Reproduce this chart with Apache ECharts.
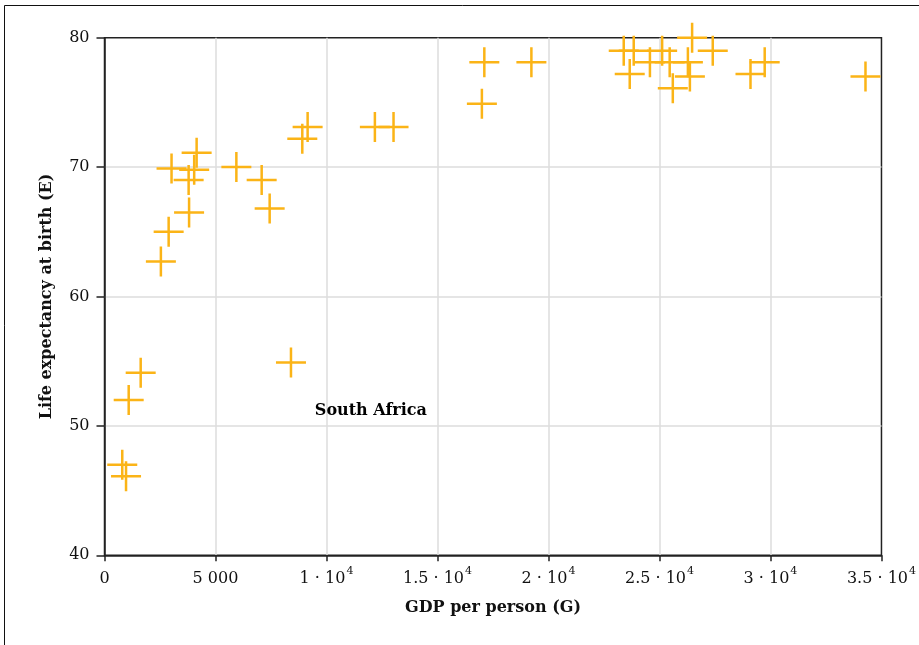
<!DOCTYPE html>
<html>
<head>
<meta charset="utf-8">
<script src="https://cdn.jsdelivr.net/npm/echarts@6/dist/echarts.min.js"></script>
<style>
html,body{margin:0;padding:0;background:#fff;}
#chart{width:919px;height:645px;}
</style>
</head>
<body>
<div id="chart"></div>
<script>
// GDP per person (G)
const gdp = [3020, 4150, 4040, 3790, 5940, 7080, 7440, 3810, 2890, 2540,
  9150, 8910, 12180, 13020, 1630, 1090, 800, 970, 8400,
  17110, 19230, 17000, 23390, 23840, 25120, 24570, 25460, 26280, 26370,
  23660, 25600, 26470, 27400, 29100, 29740, 34280];
// Life expectancy at birth (E)
const life = [69.9, 71.1, 69.8, 69.0, 70.0, 69.0, 66.8, 66.5, 65.0, 62.7,
  73.1, 72.2, 73.1, 73.1, 54.1, 52.0, 47.0, 46.1, 54.9,
  78.1, 78.1, 74.9, 79.0, 79.0, 79.0, 78.1, 78.1, 78.1, 77.0,
  77.2, 76.1, 80.0, 79.0, 77.2, 78.1, 77.0];
const xTickLabels = {0: '0', 5000: '5 000', 10000: '1 · 10|4', 15000: '1.5 · 10|4', 20000: '2 · 10|4',
  25000: '2.5 · 10|4', 30000: '3 · 10|4', 35000: '3.5 · 10|4'};
const annotation = {text: 'South Africa', x: 12000, y: 51.15};

const font = '"DejaVu Serif", "Liberation Serif", serif';
const chart = echarts.init(document.getElementById('chart'));
const points = gdp.map((g, i) => [g, life[i]]);
chart.setOption({
  animation: false,
  backgroundColor: '#fff',
  textStyle: {fontFamily: font},
  graphic: [{
    type: 'rect', shape: {x: 4.5, y: 5.5, width: 930, height: 660},
    style: {fill: 'none', stroke: '#111', lineWidth: 1}, silent: true, z: -1
  }],
  grid: {left: 104.5, right: 36, top: 37.7, bottom: 89.7, show: true,
    borderColor: '#222', borderWidth: 1.5, backgroundColor: 'transparent'},
  xAxis: {
    type: 'value', min: 0, max: 35000, interval: 5000,
    name: 'GDP per person (G)', nameLocation: 'middle', nameGap: 45,
    nameTextStyle: {fontFamily: font, fontWeight: 'bold', fontSize: 16, color: '#111'},
    axisLine: {lineStyle: {color: '#222', width: 1.5}},
    axisTick: {show: true, length: 6, lineStyle: {color: '#222', width: 1.5}},
    splitLine: {show: true, showMinLine: false, showMaxLine: false, lineStyle: {color: '#dcdcdc', width: 1.5}},
    axisLabel: {
      margin: 10, color: '#111', fontSize: 16, fontFamily: font,
      formatter: v => {
        const s = xTickLabels[v];
        if (s === undefined) return '';
        if (s.indexOf('|') < 0) return '{a|' + s + '}';
        const p = s.split('|');
        return '{a|' + p[0] + '}{s|' + p[1] + '}';
      },
      rich: {
        a: {fontSize: 16, fontFamily: font, color: '#111', lineHeight: 22, verticalAlign: 'bottom'},
        s: {fontSize: 11, fontFamily: font, color: '#111', lineHeight: 22, verticalAlign: 'top', padding: [0, 0, 6, 1]}
      }
    }
  },
  yAxis: {
    type: 'value', min: 40, max: 80, interval: 10,
    name: 'Life expectancy at birth (E)', nameLocation: 'middle', nameGap: 50,
    nameTextStyle: {fontFamily: font, fontWeight: 'bold', fontSize: 16, color: '#111'},
    axisLine: {show: true, lineStyle: {color: '#222', width: 1.5}},
    axisTick: {show: true, length: 8, lineStyle: {color: '#222', width: 1.5}},
    splitLine: {show: true, showMinLine: false, showMaxLine: false, lineStyle: {color: '#dcdcdc', width: 1.5}},
    axisLabel: {margin: 15, color: '#111', fontSize: 16, fontFamily: font}
  },
  series: [{
    type: 'scatter',
    data: points,
    symbol: 'path://M15,0L15,30M0,15L30,15',
    symbolSize: 30,
    clip: false,
    itemStyle: {color: 'none', borderColor: '#fbb417', borderWidth: 2.5, opacity: 1},
    z: 5
  }, {
    type: 'scatter',
    data: [[annotation.x, annotation.y]],
    symbol: 'circle',
    symbolSize: 1,
    itemStyle: {opacity: 0},
    silent: true,
    label: {show: true, position: 'inside', formatter: annotation.text, opacity: 1,
      fontFamily: font, fontWeight: 'bold', fontSize: 16, color: '#000', textBorderWidth: 0}
  }]
});
</script>
</body>
</html>
